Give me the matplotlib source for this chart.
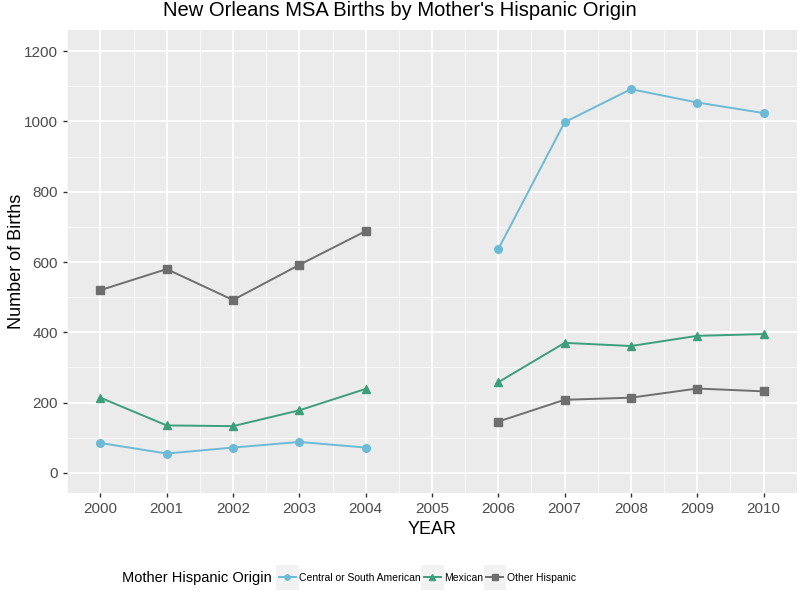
import matplotlib
matplotlib.use('Agg')
from matplotlib import pyplot as plt
from matplotlib.patches import Rectangle
import numpy as np

plt.rcParams['font.family'] = ['Liberation Sans', 'DejaVu Sans']

years = [2000, 2001, 2002, 2003, 2004, 2005, 2006, 2007, 2008, 2009, 2010]
nan = np.nan

# births by mother's origin (2005 missing)
central_south = [85, 55, 72, 88, 72, nan, 637, 998, 1092, 1054, 1024]
mexican = [214, 135, 133, 178, 239, nan, 258, 370, 361, 390, 395]
other_hisp = [520, 580, 492, 592, 688, nan, 146, 208, 214, 240, 232]

series_names = ['Central or South American', 'Mexican', 'Other Hispanic']
colors = ['#6CBAD6', '#3D9E7C', '#6E6E6E']
markers = ['o', '^', 's']

fig = plt.figure(figsize=(8, 5.91), dpi=100)
ax = fig.add_axes([0.084, 0.166, 0.912, 0.783])
ax.set_facecolor('#EBEBEB')

for y, name, c, m in zip([central_south, mexican, other_hisp], series_names, colors, markers):
    ax.plot(years, y, color=c, marker=m, markersize=5.5, linewidth=1.4,
            label=name, zorder=3)

ax.set_xlim(1999.5, 2010.5)
ax.set_ylim(-57, 1260)
ax.set_xticks(years)
ax.set_xticklabels([str(y) for y in years])
ax.set_yticks(np.arange(0, 1201, 200))
ax.set_xticks(np.arange(1999.5, 2010.6, 1), minor=True)
ax.set_yticks(np.arange(100, 1201, 200), minor=True)

ax.grid(which='major', color='white', linewidth=1.3)
ax.grid(which='minor', color='white', linewidth=0.6, alpha=0.8)
ax.set_axisbelow(True)
for s in ax.spines.values():
    s.set_visible(False)
ax.tick_params(which='major', length=3, color='#333333', labelsize=11,
               labelcolor='#4D4D4D', width=1)
ax.tick_params(which='minor', length=0)

ax.set_xlabel('YEAR', fontsize=13, labelpad=4)
ax.set_ylabel('Number of Births', fontsize=13)
ax.yaxis.set_label_coords(-0.058, 0.5)
fig.suptitle("New Orleans MSA Births by Mother's Hispanic Origin",
             fontsize=14.5, x=0.5, y=0.998, va='top')

fig.text(0.153, 0.022, 'Mother Hispanic Origin', fontsize=10.5, va='center')
leg = fig.legend(loc='center left', bbox_to_anchor=(0.337, 0.022), ncol=3,
                 frameon=False, fontsize=7.5, handlelength=1.6,
                 handletextpad=0.35, columnspacing=0.3, markerscale=0.7)

fig.canvas.draw()
for h in leg.legend_handles:
    bb = h.get_window_extent().transformed(fig.transFigure.inverted())
    cx = (bb.x0 + bb.x1) / 2
    cy = (bb.y0 + bb.y1) / 2
    w, hgt = 0.028, 0.042
    fig.patches.append(Rectangle((cx - w / 2, cy - hgt / 2), w, hgt,
                                 transform=fig.transFigure,
                                 facecolor='#F2F2F2', edgecolor='none',
                                 zorder=0))

fig.savefig('out.png', dpi=100)
